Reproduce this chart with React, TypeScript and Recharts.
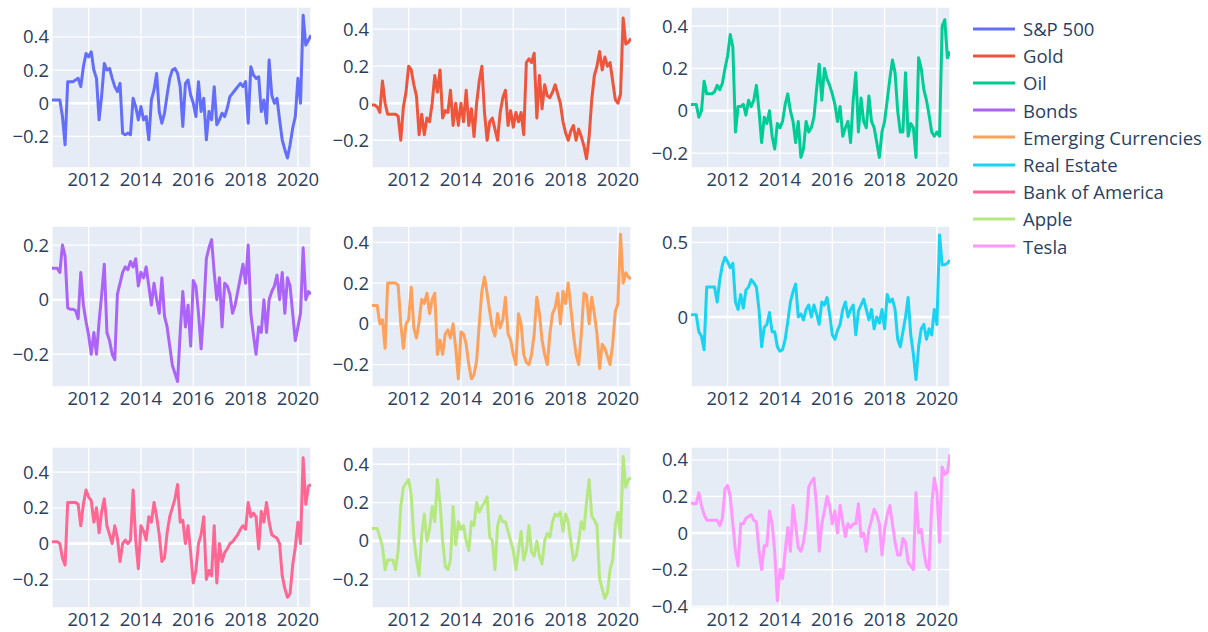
import { LineChart, Line, XAxis, YAxis, CartesianGrid, ReferenceLine } from "recharts";

// sampled every 0.1 year from 2010.6 to 2020.5
const START = 2010.6;
const STEP = 0.1;

const spx = [
  0.02, 0.02, 0.02, 0.02, -0.08, -0.25, 0.13, 0.13, 0.13, 0.14,
  0.15, 0.1, 0.22, 0.3, 0.28, 0.31, 0.2, 0.15, -0.1, 0.05,
  0.24, 0.2, 0.21, 0.15, 0.1, 0.07, 0.12, -0.18, -0.19, -0.18,
  -0.19, 0.03, -0.02, -0.1, -0.02, -0.1, -0.08, -0.22, 0.02, 0.08,
  0.18, -0.05, -0.12, -0.06, 0.05, 0.15, 0.2, 0.21, 0.18, 0.1,
  -0.14, 0.12, 0.14, 0.05, 0.0, -0.08, 0.13, -0.05, 0.03, -0.22,
  -0.05, -0.1, 0.1, -0.13, -0.1, -0.06, -0.08, -0.03, 0.04, 0.06,
  0.08, 0.1, 0.12, 0.1, 0.13, -0.12, 0.22, 0.17, 0.15, 0.16,
  -0.05, 0.02, -0.12, 0.26, 0.05, 0.0, 0.03, -0.1, -0.22, -0.28,
  -0.33, -0.25, -0.15, -0.08, 0.15, 0.0, 0.53, 0.35, 0.38, 0.41,
];

const gold = [
  -0.01, -0.01, -0.02, -0.05, 0.12, 0.0, -0.06, -0.06, -0.06, -0.06,
  -0.07, -0.2, -0.02, 0.06, 0.2, 0.18, 0.1, 0.04, -0.17, -0.06,
  -0.17, -0.08, -0.1, 0.0, 0.15, 0.06, 0.18, -0.08, -0.04, -0.05,
  0.07, -0.12, 0.0, -0.12, 0.0, -0.1, 0.07, -0.12, -0.03, -0.18,
  0.0, 0.12, 0.2, -0.05, -0.2, -0.1, -0.08, -0.14, -0.2, -0.05,
  0.03, 0.07, -0.12, -0.04, -0.13, -0.05, -0.1, -0.05, -0.17, 0.22,
  0.24, 0.22, 0.27, -0.08, 0.15, -0.03, 0.1, 0.04, 0.03, 0.06,
  0.1, 0.05, 0.0, -0.1, -0.16, -0.2, -0.15, -0.12, -0.2, -0.14,
  -0.18, -0.23, -0.3, -0.18, 0.02, 0.15, 0.2, 0.28, 0.18, 0.25,
  0.2, 0.22, 0.12, 0.02, 0.0, 0.05, 0.46, 0.32, 0.33, 0.35,
];

const oil = [
  0.03, 0.03, 0.03, -0.03, 0.0, 0.14, 0.08, 0.08, 0.08, 0.09,
  0.12, 0.1, 0.13, 0.2, 0.26, 0.36, 0.3, -0.1, 0.02, 0.02,
  0.03, -0.02, 0.05, 0.02, 0.05, 0.12, 0.0, -0.15, -0.03, -0.06,
  0.0, -0.12, -0.18, -0.06, -0.08, -0.05, 0.03, 0.08, 0.0, -0.05,
  -0.15, -0.05, -0.22, -0.18, -0.05, -0.1, -0.08, -0.03, 0.1, 0.22,
  0.05, 0.2, 0.15, 0.12, 0.08, 0.03, -0.05, 0.02, -0.12, -0.08,
  -0.05, -0.15, 0.05, 0.18, -0.1, 0.06, -0.05, -0.08, 0.07, -0.05,
  -0.08, -0.15, -0.22, -0.1, -0.05, 0.05, 0.15, 0.24, 0.18, 0.0,
  -0.1, -0.1, 0.18, -0.12, -0.06, -0.08, -0.22, 0.25, 0.2, 0.1,
  0.05, -0.02, -0.1, -0.12, -0.1, -0.12, 0.4, 0.43, 0.25, 0.28,
];

const bonds = [
  0.115, 0.115, 0.115, 0.1, 0.2, 0.16, -0.03, -0.035, -0.035, -0.04,
  -0.07, 0.1, -0.02, -0.08, -0.13, -0.2, -0.12, -0.2, -0.08, 0.02,
  0.13, -0.12, -0.15, -0.2, -0.22, 0.02, 0.06, 0.1, 0.12, 0.11,
  0.14, 0.12, 0.15, 0.05, 0.1, 0.08, 0.12, 0.05, -0.02, 0.06,
  0.0, -0.05, 0.08, -0.06, -0.1, -0.17, -0.24, -0.27, -0.3, -0.12,
  0.03, -0.1, -0.02, -0.17, 0.07, 0.05, -0.05, -0.18, -0.04, 0.15,
  0.19, 0.22, 0.1, 0.0, 0.08, -0.1, 0.06, 0.05, 0.02, -0.05,
  -0.02, 0.03, 0.08, 0.13, 0.06, 0.2, -0.05, -0.13, -0.2, -0.1,
  -0.12, 0.0, -0.12, 0.0, 0.03, 0.05, 0.09, 0.0, 0.1, -0.05,
  0.08, 0.05, -0.05, -0.15, -0.1, -0.05, 0.19, 0.0, 0.03, 0.02,
];

const emCur = [
  0.09, 0.09, 0.09, 0.0, 0.02, -0.12, 0.2, 0.2, 0.2, 0.2,
  0.19, 0.0, -0.12, 0.0, 0.02, 0.18, -0.02, -0.07, 0.01, 0.12,
  0.1, 0.15, 0.05, 0.12, 0.15, -0.15, -0.08, -0.15, -0.05, -0.03,
  -0.07, 0.0, -0.12, -0.27, -0.04, -0.05, -0.1, -0.2, -0.27, -0.25,
  -0.18, 0.0, 0.16, 0.23, 0.15, 0.06, -0.02, -0.06, 0.05, -0.02,
  0.02, 0.13, -0.05, -0.08, -0.15, -0.2, 0.05, 0.0, -0.15, -0.19,
  -0.2, -0.15, -0.05, 0.13, 0.05, -0.08, -0.15, -0.2, -0.05, 0.05,
  0.08, 0.15, 0.0, 0.16, 0.1, 0.2, 0.08, -0.05, -0.15, -0.2,
  -0.05, 0.15, 0.14, 0.0, 0.13, 0.05, -0.05, -0.22, -0.1, -0.12,
  -0.16, -0.2, -0.1, 0.06, 0.1, 0.44, 0.2, 0.25, 0.23, 0.22,
];

const realEstate = [
  0.015, 0.015, 0.015, -0.1, -0.13, -0.22, 0.2, 0.2, 0.2, 0.2,
  0.1, 0.25, 0.35, 0.4, 0.37, 0.33, 0.36, 0.1, 0.05, 0.15,
  0.06, 0.18, 0.2, 0.25, 0.23, 0.2, 0.05, -0.2, -0.07, -0.05,
  0.03, -0.1, -0.1, -0.2, -0.23, -0.22, -0.15, -0.03, 0.1, 0.17,
  0.22, 0.0, 0.02, -0.02, 0.05, 0.08, 0.0, 0.08, 0.02, -0.05,
  0.1, 0.08, 0.13, 0.02, -0.12, -0.15, -0.09, -0.05, 0.05, 0.1,
  0.0, 0.05, 0.08, -0.12, 0.04, 0.08, 0.12, 0.05, -0.02, 0.05,
  -0.08, 0.0, -0.04, 0.05, -0.08, 0.15, 0.1, 0.12, 0.05, -0.15,
  -0.2, -0.1, 0.0, 0.13, -0.12, -0.25, -0.42, -0.2, -0.08, -0.05,
  -0.15, -0.08, -0.12, 0.05, -0.05, 0.55, 0.35, 0.35, 0.36, 0.38,
];

const bankOfAmerica = [
  0.01, 0.01, 0.01, 0.0, -0.08, -0.12, 0.23, 0.23, 0.23, 0.23,
  0.22, 0.1, 0.22, 0.3, 0.26, 0.24, 0.12, 0.2, 0.06, 0.18,
  0.25, 0.1, 0.05, 0.0, 0.1, 0.03, -0.1, 0.0, 0.02, 0.0,
  0.02, 0.3, 0.02, -0.14, 0.1, 0.07, 0.02, 0.15, 0.12, 0.23,
  0.15, 0.05, -0.1, -0.08, 0.06, 0.15, 0.2, 0.25, 0.33, 0.12,
  0.13, 0.0, 0.1, -0.05, -0.22, -0.15, 0.0, 0.05, 0.15, -0.2,
  -0.15, -0.18, 0.1, -0.22, 0.0, -0.1, -0.05, -0.03, 0.0, 0.01,
  0.03, 0.05, 0.08, 0.1, 0.08, 0.23, 0.15, 0.17, 0.15, -0.03,
  0.18, 0.12, 0.23, 0.12, 0.05, 0.04, 0.03, 0.0, -0.18, -0.25,
  -0.3, -0.28, -0.12, -0.02, 0.12, 0.0, 0.48, 0.22, 0.32, 0.33,
];

const apple = [
  0.065, 0.065, 0.065, 0.02, -0.03, -0.15, -0.1, -0.1, -0.1, -0.15,
  -0.05, 0.18, 0.28, 0.3, 0.32, 0.24, 0.02, -0.1, -0.18, 0.03,
  0.14, 0.0, 0.06, 0.18, 0.1, 0.32, 0.2, 0.0, -0.13, -0.15,
  -0.1, 0.18, -0.02, 0.1, 0.06, 0.08, 0.0, -0.05, 0.1, 0.08,
  0.2, 0.15, 0.18, 0.2, 0.23, 0.02, 0.0, -0.15, 0.08, 0.13,
  0.1, 0.1, 0.05, 0.0, -0.05, -0.15, -0.05, 0.05, -0.1, -0.05,
  0.08, -0.06, -0.08, 0.0, -0.08, -0.12, 0.0, 0.04, 0.02, 0.1,
  0.14, 0.13, 0.15, 0.05, 0.14, 0.1, 0.0, -0.1, -0.08, 0.0,
  0.1, 0.06, 0.2, 0.32, 0.13, 0.11, 0.08, -0.2, -0.25, -0.3,
  -0.27, -0.15, -0.1, 0.08, 0.15, 0.02, 0.44, 0.28, 0.32, 0.33,
];

const tesla = [
  0.165, 0.16, 0.16, 0.22, 0.15, 0.1, 0.07, 0.07, 0.07, 0.07,
  0.07, 0.04, 0.08, 0.24, 0.26, 0.2, 0.05, -0.1, -0.18, 0.05,
  0.05, 0.08, 0.09, 0.1, 0.07, 0.06, -0.1, -0.2, -0.07, -0.07,
  0.12, 0.05, -0.1, -0.37, -0.2, -0.25, -0.1, 0.03, -0.1, 0.15,
  0.04, -0.08, -0.1, -0.05, 0.05, 0.25, 0.28, 0.3, 0.15, -0.1,
  0.05, 0.12, 0.2, 0.15, 0.05, 0.12, 0.0, 0.15, 0.06, -0.02,
  0.05, 0.03, 0.05, 0.05, 0.16, -0.02, 0.0, -0.1, 0.02, 0.07,
  0.13, 0.1, 0.05, -0.12, 0.02, 0.1, 0.15, 0.05, -0.05, -0.12,
  -0.12, -0.03, -0.05, -0.16, -0.18, -0.2, 0.22, 0.0, 0.02, -0.1,
  -0.18, -0.2, 0.15, 0.3, 0.22, -0.05, 0.36, 0.32, 0.33, 0.43,
];

const names = ["S&P 500", "Gold", "Oil", "Bonds", "Emerging Currencies", "Real Estate", "Bank of America", "Apple", "Tesla"];
const colors = ["#636efa", "#EF553B", "#00cc96", "#ab63fa", "#FFA15A", "#19d3f3", "#FF6692", "#B6E880", "#FF97FF"];
const series = [spx, gold, oil, bonds, emCur, realEstate, bankOfAmerica, apple, tesla];
const xTicks = [2012, 2014, 2016, 2018, 2020];

const panels = [
  { domain: [-0.39, 0.58], ticks: [-0.2, 0, 0.2, 0.4] },
  { domain: [-0.35, 0.52], ticks: [-0.2, 0, 0.2, 0.4] },
  { domain: [-0.27, 0.49], ticks: [-0.2, 0, 0.2, 0.4] },
  { domain: [-0.32, 0.27], ticks: [-0.2, 0, 0.2] },
  { domain: [-0.31, 0.48], ticks: [-0.2, 0, 0.2, 0.4] },
  { domain: [-0.47, 0.61], ticks: [0, 0.5] },
  { domain: [-0.36, 0.54], ticks: [-0.2, 0, 0.2, 0.4] },
  { domain: [-0.35, 0.49], ticks: [-0.2, 0, 0.2, 0.4] },
  { domain: [-0.41, 0.47], ticks: [-0.4, -0.2, 0, 0.2, 0.4] },
];

const COL_LEFT = [52, 372, 691];
const ROW_TOP = [7, 226, 447];
const PW = 259;
const PH = 161;
const YW = 50;
const XH = 24;
const RM = 28;

const FONT = '"Open Sans", verdana, arial, sans-serif';
const INK = "#2a3f5f";
const FS = 18.5;

const fmtY = (v: number) => (v === 0 ? "0" : (v < 0 ? "\u2212" : "") + String(Math.abs(v)));

function Panel({ idx }: { idx: number }) {
  const values = series[idx];
  const data = values.map((v, i) => ({ t: +(START + i * STEP).toFixed(2), v }));
  const p = panels[idx];
  const tick = { fill: INK, fontSize: FS, fontFamily: FONT };
  return (
    <div style={{ position: "absolute", left: COL_LEFT[idx % 3] - YW, top: ROW_TOP[Math.floor(idx / 3)] }}>
      <LineChart width={YW + PW + RM} height={PH + XH} data={data} margin={{ top: 0, right: RM, bottom: 0, left: 0 }}>
        <CartesianGrid fill="#E5ECF6" stroke="#ffffff" strokeWidth={1.3} />
        <XAxis
          dataKey="t"
          type="number"
          domain={[START, 2020.5]}
          ticks={xTicks}
          interval={0}
          allowDataOverflow
          axisLine={false}
          tickLine={false}
          tickSize={0}
          tickMargin={5}
          height={XH}
          tick={tick}
        />
        <YAxis
          type="number"
          domain={p.domain}
          ticks={p.ticks}
          interval={0}
          allowDataOverflow
          axisLine={false}
          tickLine={false}
          tickSize={0}
          tickMargin={3}
          width={YW}
          tickFormatter={fmtY}
          tick={tick}
        />
        <ReferenceLine y={0} stroke="#ffffff" strokeWidth={2.6} />
        <Line
          type="linear"
          dataKey="v"
          stroke={colors[idx]}
          strokeWidth={3}
          strokeLinejoin="round"
          dot={false}
          isAnimationActive={false}
        />
      </LineChart>
    </div>
  );
}

export default function App() {
  return (
    <div style={{ position: "absolute", left: 0, top: 0, width: 1208, height: 632, background: "#fff", fontFamily: FONT, overflow: "hidden" }}>
      {series.map((_, i) => (
        <Panel key={i} idx={i} />
      ))}
      <div style={{ position: "absolute", left: 973, top: 15 }}>
        {names.map((n, i) => (
          <div key={n} style={{ display: "flex", alignItems: "center", height: 27.2 }}>
            <svg width={42} height={6} style={{ marginRight: 8 }}>
              <line x1={0} y1={3} x2={42} y2={3} stroke={colors[i]} strokeWidth={3} />
            </svg>
            <span style={{ color: INK, fontSize: FS, whiteSpace: "nowrap" }}>{n}</span>
          </div>
        ))}
      </div>
    </div>
  );
}
